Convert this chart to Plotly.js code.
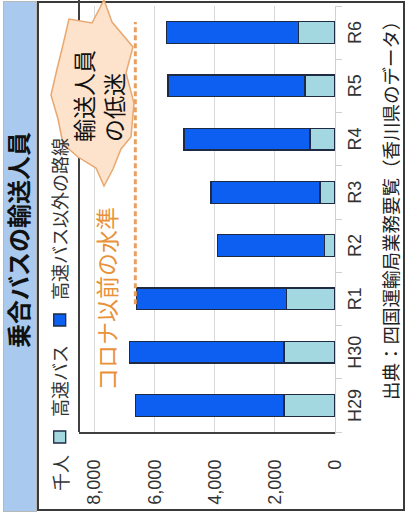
<!DOCTYPE html>
<html>
<head>
<meta charset="utf-8">
<script src="https://cdn.plot.ly/plotly-3.0.1.min.js"></script>
<style>
  html, body { margin: 0; padding: 0; background: #ffffff; overflow: hidden; }
  #wrap {
    position: absolute; left: 0; top: 0; width: 513px; height: 406px;
    transform-origin: 0 0;
    transform: translate(0px, 513px) rotate(-90deg);
    background: #ffffff;
  }
  #band {
    position: absolute; left: 1px; top: 3px; width: 509px; height: 32px;
    background: #a9c9ee; border: 1px solid #b8b8b8;
  }
  #frame {
    position: absolute; left: 2px; top: 37px; width: 506px; height: 364px;
    border: 2px solid #3a3a3a;
  }
  #chart { position: absolute; left: 0; top: 0; width: 513px; height: 406px; }
</style>
</head>
<body>
<div id="wrap">
  <div id="band"></div>
  <div id="frame"></div>
  <div id="chart"></div>
</div>
<script>
// ---- data ----
const years = ["H29", "H30", "R1", "R2", "R3", "R4", "R5", "R6"];
const expressBus = [1690, 1690, 1600, 360, 500, 830, 1000, 1220];     // 高速バス
const localBus   = [4940, 5130, 4980, 3550, 3620, 4180, 4550, 4370];  // 高速バス以外の路線
const preCovidLevel = 6630;   // コロナ以前の水準
const seriesNames = ["高速バス", "高速バス以外の路線"];
const titleText = "乗合バスの輸送人員";
const unitText = "千人";
const sourceText = "出典：四国運輸局業務要覧（香川県のデータ）";
const levelText = "コロナ以前の水準";
const calloutText = "輸送人員<br>の低迷";

// ---- geometry helpers (decoration only) ----
const W = 513, H = 406;
const M = { l: 81, r: 6, t: 79, b: 71 };
const PW = W - M.l - M.r, PH = H - M.t - M.b;
const px = x => (x - M.l) / PW;
const py = y => (H - M.b - y) / PH;

// callout outline in pixel coords of the chart
const calloutPts = [
  [513,104],[491,112],[466,133],[440,126],[410,134],[376,131],[364,121],
  [344,113],[327,104],[345,96],[356,78],[369,63],[394,58],[418,51],
  [444,57],[464,62],[494,69],[490,92]
];
const calloutPath = "M" + calloutPts.map(p => px(p[0]).toFixed(4) + "," + py(p[1]).toFixed(4)).join("L") + "Z";

const FONT = "Liberation Sans, Arial, 'Noto Sans CJK JP', sans-serif";
const JFONT = "'Noto Sans CJK JP', Liberation Sans, sans-serif";

const traces = [
  {
    type: "bar", name: seriesNames[0], x: years, y: expressBus,
    marker: { color: "#a3d8e0", line: { color: "#1f2a44", width: 1.3 } },
    hoverinfo: "skip"
  },
  {
    type: "bar", name: seriesNames[1], x: years, y: localBus,
    marker: { color: "#0d5ff2", line: { color: "#1f2a44", width: 1.3 } },
    hoverinfo: "skip"
  }
];

const layout = {
  width: W, height: H,
  margin: M,
  paper_bgcolor: "rgba(0,0,0,0)",
  plot_bgcolor: "rgba(0,0,0,0)",
  barmode: "stack",
  bargap: 0.59,
  font: { family: FONT, size: 18, color: "#333333" },
  title: {
    text: titleText, x: 273 / W, xanchor: "center", y: 1 - 20 / H, yanchor: "middle",
    font: { family: JFONT, size: 24, color: "#111111", weight: "bold" }
  },
  xaxis: {
    type: "category", categoryorder: "array", categoryarray: years,
    showline: true, linecolor: "#d0d0d0", linewidth: 1,
    ticks: "outside", tickson: "boundaries", ticklen: 6, tickcolor: "#cfcfcf",
    showgrid: false, tickfont: { size: 18, color: "#333333" },
    ticklabelstandoff: 3
  },
  yaxis: {
    range: [0, 8500], dtick: 2000, tickformat: ",",
    showgrid: true, gridcolor: "#d9d9d9", gridwidth: 1,
    showline: true, linecolor: "#404040", linewidth: 2,
    zeroline: false, ticks: "", ticklabelstandoff: 22,
    tickfont: { size: 18, color: "#333333" }
  },
  legend: {
    orientation: "h", x: px(56), xanchor: "left", y: py(60), yanchor: "middle",
    font: { family: JFONT, size: 18, color: "#333333" },
    bgcolor: "rgba(0,0,0,0)", traceorder: "normal", itemclick: false
  },
  shapes: [
    { type: "line", xref: "paper", yref: "paper", x0: 0, x1: px(513), y0: 1, y1: 1,
      line: { color: "#404040", width: 2 } },
    { type: "line", xref: "x", yref: "y", x0: 1.9, x1: 7.2, y0: preCovidLevel, y1: preCovidLevel,
      line: { color: "#e8a060", width: 3, dash: "5px,3px" } },
    { type: "path", xref: "paper", yref: "paper", path: calloutPath,
      fillcolor: "#fde2cc", line: { color: "#e8a870", width: 1.5 }, layer: "above" }
  ],
  annotations: [
    { text: unitText, xref: "paper", yref: "paper", x: px(40), y: py(60),
      xanchor: "center", yanchor: "middle", showarrow: false,
      font: { family: JFONT, size: 18, color: "#333333" } },
    { text: levelText, xref: "x", yref: "y", x: "R1", y: preCovidLevel, yshift: 29,
      xanchor: "center", yanchor: "middle", showarrow: false,
      font: { family: JFONT, size: 23, color: "#e8923a" } },
    { text: calloutText, xref: "paper", yref: "paper", x: px(417), y: py(98),
      xanchor: "center", yanchor: "middle", showarrow: false, align: "left",
      font: { family: JFONT, size: 23, color: "#111111" } },
    { text: sourceText, xref: "paper", yref: "paper", x: px(504), y: py(390),
      xanchor: "right", yanchor: "middle", showarrow: false,
      font: { family: JFONT, size: 18.5, color: "#222222" } }
  ]
};

Plotly.newPlot("chart", traces, layout, { staticPlot: true, displayModeBar: false });
</script>
</body>
</html>
